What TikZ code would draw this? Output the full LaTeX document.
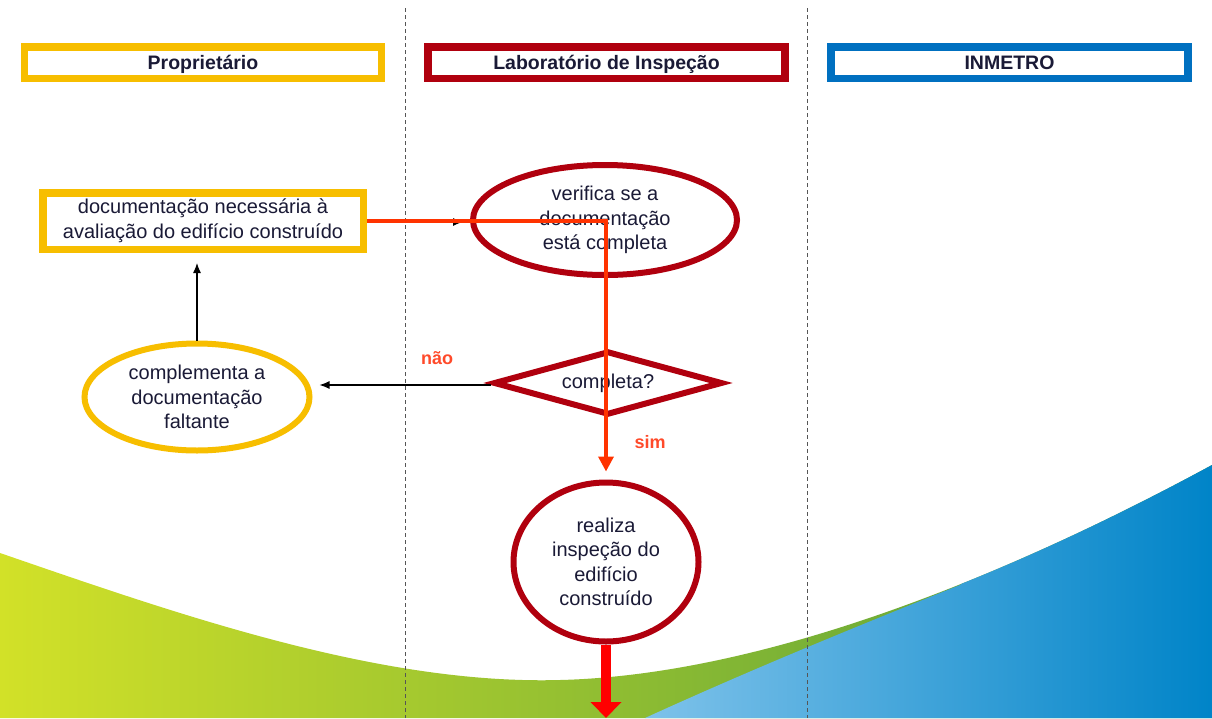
\documentclass[tikz,border=0pt]{standalone}
\usepackage{fontspec}
\setmainfont{Liberation Sans}
\usetikzlibrary{shapes.geometric,arrows.meta}
\definecolor{propY}{HTML}{F7BE00}
\definecolor{propYd}{HTML}{C99A00}
\definecolor{labR}{HTML}{B0000E}
\definecolor{labRd}{HTML}{850008}
\definecolor{inmB}{HTML}{0070C0}
\definecolor{inmBd}{HTML}{00508C}
\definecolor{txt}{HTML}{1A1A36}
\definecolor{flow}{HTML}{FF3300}
\definecolor{lbl}{HTML}{FF4A2A}
\definecolor{lane}{HTML}{555555}
\definecolor{gYel}{HTML}{D2E128}
\definecolor{gMid}{HTML}{86B834}
\definecolor{gDark}{HTML}{4E9A3C}
\definecolor{bLight}{HTML}{7EC2EA}
\definecolor{bDark}{HTML}{0084C8}
\begin{document}
\begin{tikzpicture}[x=1pt,y=-1pt,
  bodyfont/.style={font=\fontsize{20}{24.5}\selectfont},
  header/.style={rectangle, draw=#1, line width=7.5pt, fill=white,
    minimum width=357pt, minimum height=31.5pt, inner sep=0pt,
    text height=14pt, text depth=1pt,
    font=\bfseries\fontsize{19.5}{22}\selectfont, text=txt},
  procbox/.style={rectangle, draw=propY, line width=7.5pt, fill=white,
    minimum width=320.5pt, minimum height=56.5pt, inner sep=0pt,
    align=center, bodyfont, text=txt},
  ell/.style={ellipse, draw=#1, line width=6pt, fill=white, inner sep=0pt,
    align=center, bodyfont, text=txt},
  dec/.style={diamond, draw=labR, line width=6pt, fill=white, inner sep=0pt,
    aspect=3.3, minimum width=229pt, minimum height=64pt, bodyfont, text=txt},
  thinarrow/.style={draw=black, line width=1.2pt, -{Latex[width=8pt,length=10pt]}},
  flowline/.style={draw=flow, line width=3.5pt, -{Triangle[width=15pt,length=15pt]}},
  bigarrow/.style={draw=red, line width=10pt, -{Triangle[width=30pt,length=16pt]}},
  lbltext/.style={font=\bfseries\fontsize{18}{22}\selectfont, text=lbl},
  laneline/.style={draw=lane, line width=0.8pt, dash pattern=on 4pt off 3pt}
]
\useasboundingbox (0,0) rectangle (1212,718);
\fill[white] (0,0) rectangle (1212,718);

% background swoosh
\begin{scope}
  \clip (0,553) .. controls (180,615) and (380,685) .. (560,680)
        .. controls (760,675) and (1000,580) .. (1212,465)
        -- (1212,718) -- (0,718) -- cycle;
  \shade[left color=gYel, middle color=gMid, right color=gDark] (0,440) rectangle (1212,718);
  \shade[left color=bLight, right color=bDark]
    (645,718) .. controls (750,670) and (860,625) .. (960,585)
    -- (1212,380) -- (1212,718) -- cycle;
\end{scope}

% lanes
\draw[laneline] (405,8) -- (405,718);
\draw[laneline] (807,8) -- (807,718);

% headers
\node[header=propY] (hprop) at (203,62.5) {Propriet\'ario};
\node[header=labR] (hlab) at (606.5,62.5) {Laborat\'orio de Inspe\c{c}\~ao};
\node[header=inmB] (hinm) at (1009.5,62.5) {INMETRO};

% nodes
\node[procbox] (doc) at (203,221) {documenta\c{c}\~ao necess\'aria \`a\\avalia\c{c}\~ao do edif\'icio constru\'ido};
\node[ell=labR, minimum width=264pt, minimum height=110pt] (verif) at (605,220) {verifica se a\\documenta\c{c}\~ao\\est\'a completa};
\node[dec] (dia) at (608,383) {completa?};
\node[ell=propY, minimum width=225pt, minimum height=107pt] (compl) at (197,397) {complementa a\\documenta\c{c}\~ao\\faltante};
\node[ell=labR, minimum width=185pt, minimum height=159pt] (realiza) at (606,562) {realiza\\inspe\c{c}\~ao do\\edif\'icio\\constru\'ido};

\node[lbltext] (nao) at (437,358) {n\~ao};
\node[lbltext] (sim) at (650,442) {sim};

\coordinate (out) at (606,718);

% connectors
\draw[thinarrow, shorten >=7pt] ([yshift=-1pt]doc.east) -- ([yshift=-1pt]doc.east -| verif.west);
\draw[thinarrow, shorten >=10pt] (compl.north) -- (compl.north |- doc.south);
\draw[thinarrow, shorten >=7pt] ([yshift=-2pt]dia.west) -- ([yshift=-2pt]dia.west -| compl.east);
\draw[flowline, shorten >=8pt] (doc.east) -| (realiza.north);
\draw[bigarrow] (realiza.south) -- (out);
\end{tikzpicture}
\end{document}
